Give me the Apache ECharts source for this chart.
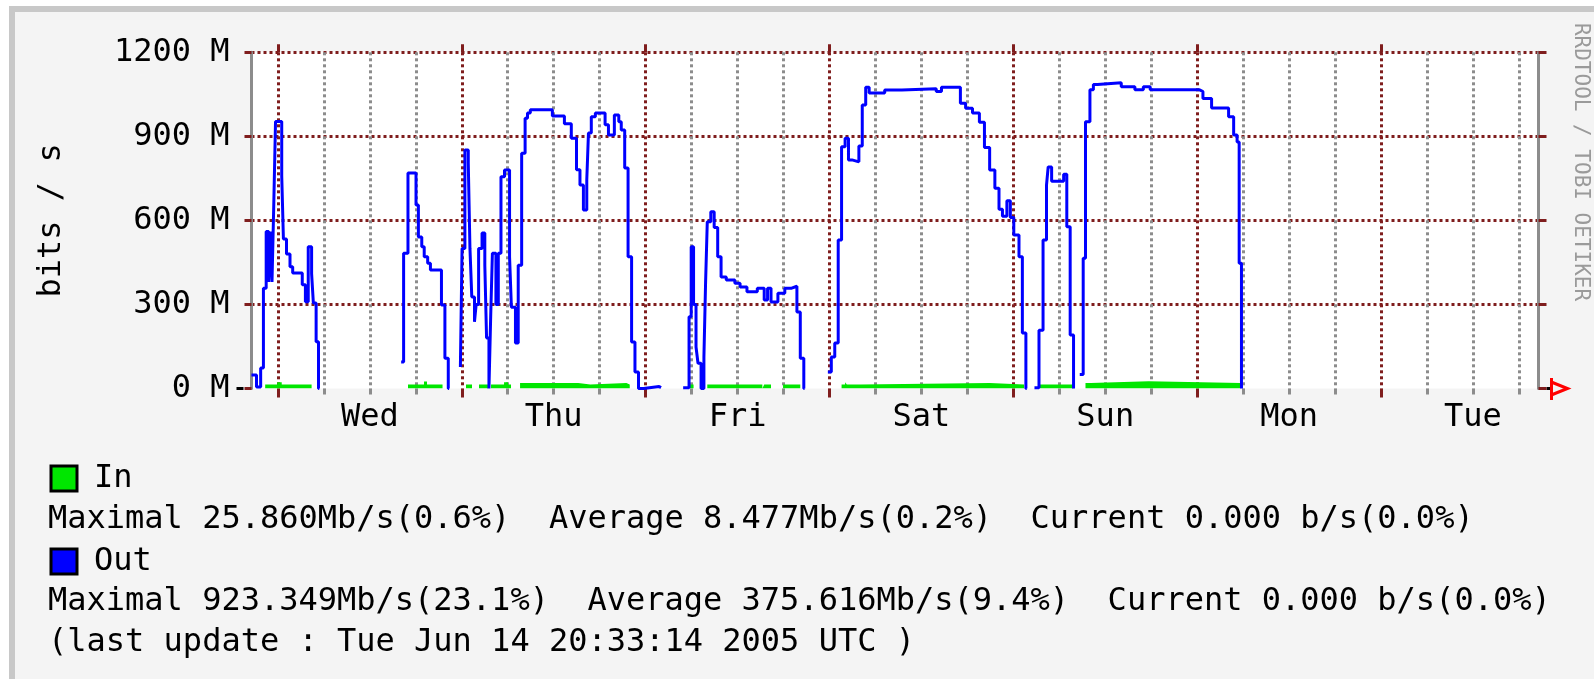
<!DOCTYPE html>
<html>
<head>
<meta charset="utf-8">
<title>bits / s</title>
<script src="https://cdn.jsdelivr.net/npm/echarts@6/dist/echarts.min.js"></script>
<style>
  html, body { margin: 0; padding: 0; background: #fff; }
  #frame { position: absolute; left: 9px; top: 6px; right: 0; bottom: 0; background: #f4f4f4;
           border-left: 6px solid #c8c8c8; border-top: 6px solid #c8c8c8; }
  #chart { position: absolute; left: 0; top: 0; width: 1594px; height: 679px; }
</style>
</head>
<body>
<div id="frame"></div>
<div id="chart"></div>
<script>
// time is in hours, counted from Wed Jun 8 2005 00:00 UTC
var startHour = -3.446;  // Tue 20:33:14
var endHour = 164.554;   // Tue Jun 14 20:33:14

var dayNames = ['Wed', 'Thu', 'Fri', 'Sat', 'Sun', 'Mon', 'Tue'];
var noonHours = [12, 36, 60, 84, 108, 132, 156];   // where the day names sit
var dayHours = [0, 24, 48, 72, 96, 120, 144];      // midnight lines
var sixHours = [6, 12, 18, 30, 36, 42, 54, 60, 66, 78, 84, 90, 102, 108, 114, 126, 132, 138, 150, 156, 162];

// In (green area), Mb/s, each value holds until the next time
var inTimes = [-1.66, -0.09, 0.50, 4.40, 16.98, 19.07, 19.46, 21.49, 24.55, 25.34, 26.25, 27.43,
  27.82, 29.52, 30.04, 30.43, 31.61, 39.20, 40.78, 45.49, 45.93, 53.79, 54.26, 56.05, 63.24,
  63.48, 64.37, 65.94, 68.19, 73.58, 74.04, 74.26, 76.06, 92.91, 97.40, 99.44, 103.86, 105.42,
  106.10, 113.66, 125.65];
var inValues = [14, 22, 14, 0, 14, 25, 14, 0, 14, 0, 14, 0,
  14, 22, 14, 0, 20, 14, 20, 14, 0, 14, 0, 14, 0,
  14, 0, 14, 0, 14, 22, 14, 20, 14, 0, 14, 0, 20,
  26, 20, 0];

// Out (blue line), Mb/s, null = no data
var outTimes = [
  -3.45, -2.79, -2.25, -1.89, -1.53, -1.21, -0.99, -0.77, -0.54, -0.31, 0.50, 0.72, 1.12, 1.58,
  1.93, 3.18, 3.59, 3.96, 4.40, 4.63, 4.99, 5.30, 5.40,
  16.09, 16.41, 16.98, 18.03, 18.34, 18.78, 19.10, 19.55, 19.91, 21.35, 21.80, 22.24, 22.35,
  23.82, 24.04, 24.41, 24.85, 25.07, 25.31, 25.66, 25.88, 26.20, 26.65, 27.01, 27.24, 27.55,
  27.78, 28.00, 28.46, 28.77, 29.12, 29.58, 30.24, 30.48, 31.01, 31.37, 31.82, 32.27, 32.58,
  32.95, 35.83, 37.40, 38.30, 38.98, 39.43, 39.88, 40.32, 40.54, 40.91, 41.44, 42.71, 43.15,
  43.92, 44.50, 44.82, 45.27, 45.71, 46.17, 46.61, 47.07, 47.74, 49.76, 50.01,
  52.90, 53.67, 53.95, 54.26, 54.58, 54.84, 55.24, 55.61, 55.83, 56.05, 56.51, 56.95, 57.41,
  57.85, 58.53, 59.65, 60.33, 61.23, 62.58, 63.48, 63.92, 64.37, 65.27, 66.17, 67.07, 67.75,
  68.19, 68.65, 68.75,
  71.79, 72.24, 72.69, 73.14, 73.58, 74.04, 74.48, 74.94, 75.84, 76.28, 76.73, 77.18, 79.21,
  81.45, 85.94, 86.62, 89.09, 89.77, 90.67, 91.57, 92.23, 92.91, 93.59, 94.13, 94.58, 95.16,
  95.61, 96.06, 96.74, 97.18, 97.64, 97.75,
  98.76, 99.35, 99.88, 100.33, 100.55, 101.00, 102.57, 102.98, 103.42, 103.86, 103.95,
  104.67, 105.12, 105.42, 106.00, 106.45, 106.98, 110.09, 111.87, 112.97, 113.87, 120.31,
  120.75, 121.88, 124.10, 124.76, 125.21, 125.48, 125.78, 125.85];
var outValues = [
  48, 5, 73, 358, 560, 380, 560, 380, 655, 953, 759, 534, 480, 435,
  412, 370, 310, 506, 410, 305, 167, 0, null,
  95, 483, 769, 655, 541, 506, 470, 447, 423, 298, 108, 0, null,
  77, 500, 851, 805, 500, 327, 238, 300, 500, 555, 440, 180, 0,
  262, 483, 300, 483, 756, 780, 470, 290, 162, 440, 840, 965, 983,
  995, 973, 945, 893, 781, 726, 637, 745, 912, 970, 983, 941, 905,
  976, 952, 923, 787, 470, 166, 59, 0, 7, 3, null,
  3, 256, 506, 300, 148, 90, 0, 112, 380, 595, 631, 575, 470,
  398, 387, 376, 362, 345, 358, 316, 358, 309, 340, 358, 365, 273,
  108, 0, null,
  59, 112, 162, 530, 863, 893, 816, 809, 866, 1012, 1075, 1055, 1065,
  1070, 1060, 1075, 1018, 1000, 983, 950, 860, 780, 715, 640, 615, 670,
  610, 548, 470, 198, 0, null,
  3, 208, 530, 726, 791, 740, 765, 577, 191, 0, null,
  50, 465, 952, 1066, 1085, 1091, 1077, 1066, 1077, 1066, 1060,
  1035, 1001, 970, 905, 880, 447, 0, null];

var statNames = ['Maximal', 'Average', 'Current'];
var inStats = ['25.860Mb/s(0.6%)', '8.477Mb/s(0.2%)', '0.000 b/s(0.0%)'];
var outStats = ['923.349Mb/s(23.1%)', '375.616Mb/s(9.4%)', '0.000 b/s(0.0%)'];
var lastUpdate = '(last update : Tue Jun 14 20:33:14 2005 UTC )';
var credit = 'RRDTOOL / TOBI OETIKER';

var RED = '#7f1d1d';
var GRAY = '#8c8c8c';
var FONT = 'DejaVu Sans Mono';
var FONT32 = '32px "DejaVu Sans Mono"';

// plot box in pixels
var plotLeft = 251.5, plotRight = 1538.5, plotTop = 52.3, plotBottom = 388.5;

function statLine(values) {
  return statNames.map(function (n, i) { return n + ' ' + values[i]; }).join('  ');
}

var chart = echarts.init(document.getElementById('chart'), null, { renderer: 'canvas' });

chart.setOption({
  animation: false,
  backgroundColor: 'transparent',
  grid: {
    left: plotLeft, right: 1594 - plotRight, top: plotTop, bottom: 679 - plotBottom,
    show: true, backgroundColor: '#fff', borderWidth: 0, containLabel: false,
    outerBoundsMode: 'none'
  },
  legend: [
    {
      data: ['In'], left: 49.5, top: 462.5, padding: 0, icon: 'rect', itemWidth: 26, itemHeight: 25,
      itemStyle: { borderColor: '#000', borderWidth: 3 }, selectedMode: false,
      textStyle: { fontFamily: FONT, fontSize: 32, color: '#000', padding: [6, 0, 0, 12] }
    },
    {
      data: ['Out'], left: 49.5, top: 545.5, padding: 0, icon: 'rect', itemWidth: 26, itemHeight: 25,
      itemStyle: { borderColor: '#000', borderWidth: 3 }, selectedMode: false,
      textStyle: { fontFamily: FONT, fontSize: 32, color: '#000', padding: [6, 0, 0, 12] }
    }
  ],
  xAxis: [
    {
      type: 'value', min: startHour, max: endHour, position: 'bottom',
      axisLine: { show: false, onZero: false },
      axisTick: { show: true, customValues: dayHours, length: 9, lineStyle: { color: RED, width: 3 } },
      axisLabel: {
        customValues: noonHours, margin: 13, color: '#000', fontFamily: FONT, fontSize: 32,
        formatter: function (v) { return dayNames[noonHours.indexOf(v)]; }
      },
      splitLine: { show: true, lineStyle: { color: RED, width: 3, type: [3, 3] } }
    },
    {
      type: 'value', min: startHour, max: endHour, position: 'bottom',
      axisLine: { show: false, onZero: false },
      axisTick: { show: true, customValues: sixHours, length: 6, lineStyle: { color: GRAY, width: 3 } },
      axisLabel: { show: false },
      splitLine: { show: true, lineStyle: { color: GRAY, width: 3, type: [3, 3] } }
    },
    {
      type: 'value', min: startHour, max: endHour, position: 'top',
      axisLine: { show: false, onZero: false },
      axisTick: { show: true, customValues: dayHours, length: 8, lineStyle: { color: RED, width: 3 } },
      axisLabel: { show: false },
      splitLine: { show: false }
    }
  ],
  yAxis: [
    {
      type: 'value', min: 0, max: 1200, interval: 300, position: 'left',
      name: 'bits / s', nameLocation: 'middle', nameRotate: 90, nameGap: 184,
      nameTextStyle: { fontFamily: FONT, fontSize: 32, color: '#000' },
      axisLine: { show: true, onZero: false, lineStyle: { color: GRAY, width: 3 } },
      axisTick: { show: true, length: 7, lineStyle: { color: RED, width: 3 } },
      axisLabel: {
        margin: 22, color: '#000', fontFamily: FONT, fontSize: 32, padding: [10, 0, 0, 0],
        formatter: function (v) { return v + ' M'; }
      },
      splitLine: { show: true, showMinLine: false, lineStyle: { color: RED, width: 3, type: [3, 3] } }
    },
    {
      type: 'value', min: 0, max: 1200, interval: 300, position: 'right',
      axisLine: { show: true, onZero: false, lineStyle: { color: GRAY, width: 3 } },
      axisTick: { show: true, length: 8, lineStyle: { color: RED, width: 3 } },
      axisLabel: { show: false },
      splitLine: { show: false }
    }
  ],
  series: [
    {
      name: 'In', type: 'line', xAxisIndex: 0, yAxisIndex: 0, step: 'end', symbol: 'none',
      color: '#00e600', lineStyle: { width: 0, opacity: 0 },
      areaStyle: { color: '#00e600', opacity: 1 },
      data: inTimes.map(function (t, i) { return [t, inValues[i]]; })
    },
    {
      name: 'Out', type: 'line', xAxisIndex: 0, yAxisIndex: 0, step: 'end', symbol: 'none',
      color: '#0000ff', connectNulls: false,
      lineStyle: { width: 3, color: '#0000ff' },
      data: outTimes.map(function (t, i) { return [t, outValues[i]]; })
    }
  ],
  graphic: [
    { type: 'text', x: 48, y: 519.5, style: { text: statLine(inStats), font: FONT32, fill: '#000', verticalAlign: 'middle' } },
    { type: 'text', x: 48, y: 602, style: { text: statLine(outStats), font: FONT32, fill: '#000', verticalAlign: 'middle' } },
    { type: 'text', x: 48, y: 643, style: { text: lastUpdate, font: FONT32, fill: '#000', verticalAlign: 'middle' } },
    {
      type: 'text', x: 1580, y: 162, rotation: -Math.PI / 2,
      style: { text: credit, font: '21px "DejaVu Sans Mono"', fill: '#9a9a9a', align: 'center', verticalAlign: 'middle' }
    },
    // axis stubs and the arrow at the end of the time axis
    { type: 'line', shape: { x1: plotLeft - 15, y1: plotBottom, x2: plotLeft - 8, y2: plotBottom }, style: { stroke: '#000', lineWidth: 3 } },
    { type: 'line', shape: { x1: plotRight + 8, y1: plotBottom, x2: plotRight + 12, y2: plotBottom }, style: { stroke: '#000', lineWidth: 3 } },
    { type: 'line', shape: { x1: plotRight + 13, y1: plotBottom - 10.5, x2: plotRight + 13, y2: plotBottom + 11.5 }, style: { stroke: '#ff0000', lineWidth: 3 } },
    {
      type: 'polyline',
      shape: { points: [[plotRight + 14, plotBottom - 6], [plotRight + 29, plotBottom], [plotRight + 14, plotBottom + 6]] },
      style: { stroke: '#ff0000', lineWidth: 3, fill: null }
    }
  ]
});
</script>
</body>
</html>
